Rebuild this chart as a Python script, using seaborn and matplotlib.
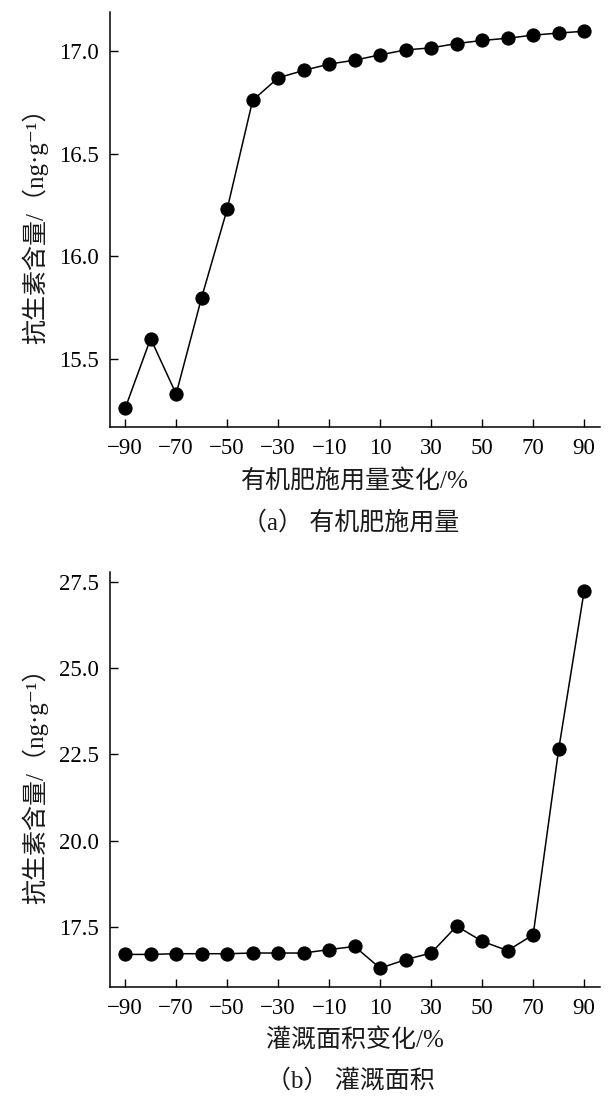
import matplotlib
matplotlib.use("Agg")
import matplotlib.pyplot as plt
from matplotlib.ticker import FormatStrFormatter
import seaborn as sns
import numpy as np

# x: change in percent, -90 .. 90
change = [-90, -80, -70, -60, -50, -40, -30, -20, -10, 0, 10, 20, 30, 40, 50, 60, 70, 80, 90]
x_ticks = [-90, -70, -50, -30, -10, 10, 30, 50, 70, 90]

# (a) organic fertilizer amount
fert_values = [15.26, 15.60, 15.33, 15.80, 16.23, 16.76, 16.87, 16.906, 16.937, 16.956,
               16.982, 17.006, 17.016, 17.037, 17.052, 17.063, 17.078, 17.088, 17.097]
fert_yticks = [15.5, 16.0, 16.5, 17.0]

# (b) irrigated area
irr_values = [16.70, 16.70, 16.72, 16.72, 16.72, 16.74, 16.74, 16.74, 16.84, 16.93,
              16.30, 16.55, 16.74, 17.52, 17.08, 16.81, 17.27, 22.64, 27.24]
irr_yticks = [17.5, 20.0, 22.5, 25.0, 27.5]

ylabel = "抗生素含量/（ng·g⁻¹）"
panels = [
    (fert_values, fert_yticks, (15.17, 17.19), "有机肥施用量变化/%", "（a） 有机肥施用量"),
    (irr_values, irr_yticks, (15.75, 27.77), "灌溉面积变化/%", "（b） 灌溉面积"),
]

sns.set_theme(style="ticks")
plt.rcParams['font.family'] = ['Liberation Serif', 'Noto Sans CJK SC', 'DejaVu Sans']
plt.rcParams['axes.unicode_minus'] = True

fig = plt.figure(figsize=(6.15, 11.03), dpi=100)
axes_pos = [[0.179, 0.613, 0.797, 0.376], [0.179, 0.105, 0.797, 0.376]]
caption_y = [1 - 523 / 1103, 1 - 1081 / 1103]

for i, (vals, yt, ylim, xlab, cap) in enumerate(panels):
    ax = fig.add_axes(axes_pos[i])
    sns.lineplot(x=change, y=vals, ax=ax, color="black", marker="o",
                 markersize=9.5, markeredgecolor="black", linewidth=1.1)
    ax.set_xlim(-95.9, 96.3)
    ax.set_ylim(*ylim)
    ax.set_xticks(x_ticks)
    ax.set_yticks(yt)
    ax.yaxis.set_major_formatter(FormatStrFormatter('%.1f'))
    ax.tick_params(direction="in", length=6, width=1.0, labelsize=16.5, pad=8, colors="black")
    for s in ["top", "right"]:
        ax.spines[s].set_visible(False)
    for s in ["left", "bottom"]:
        ax.spines[s].set_linewidth(1.1)
        ax.spines[s].set_color("black")
    ax.set_xlabel(xlab, fontsize=18, color="#1a1a1a", labelpad=7)
    ax.set_ylabel(ylabel, fontsize=18, color="#1a1a1a", labelpad=8)
    fig.text(0.57, caption_y[i], cap, fontsize=18, color="#1a1a1a",
             ha="center", va="center")

fig.savefig("out.png", dpi=100)
